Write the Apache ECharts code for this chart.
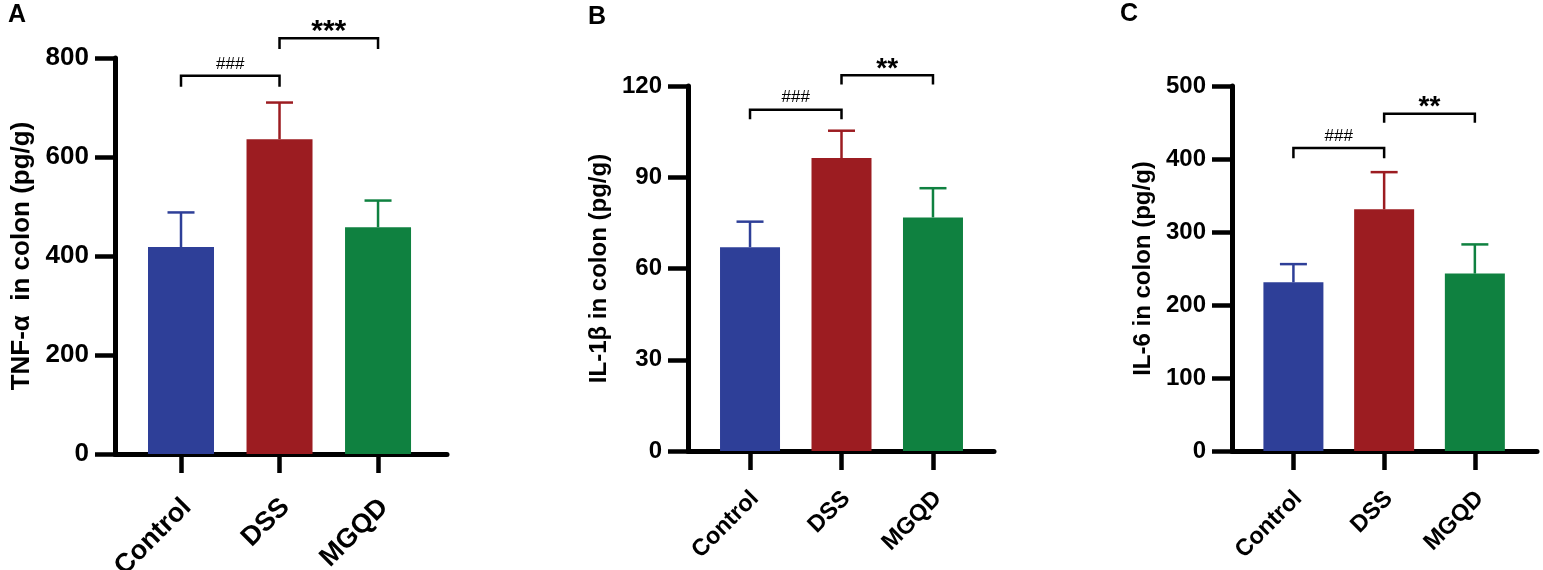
<!DOCTYPE html>
<html lang="en">
<head>
<meta charset="UTF-8">
<title>Cytokines in colon</title>
<script src="https://cdn.jsdelivr.net/npm/echarts@6/dist/echarts.min.js"></script>
<style>
    html, body { margin: 0; padding: 0; background: #fff; }
</style>
</head>
<body>
<div id="main" style="width:1543px;height:570px;"></div>
<script>
// groups on the x axis and their positions
var groups = ['Control', 'DSS', 'MGQD'];
var groupPos = [1, 2, 3];
var colors = ['#2e3f98', '#9c1c21', '#0f8140'];

// A: TNF-a
var tnfMean = [418, 636, 458];
var tnfSd = [70, 74, 54];
var tnfSig = [['###', 1, 2, 764, 742], ['***', 2, 3, 840, 818]];

// B: IL-1b
var il1bMean = [67, 96.3, 76.8];
var il1bSd = [8.4, 9, 9.6];
var il1bSig = [['###', 1, 2, 112.2, 109.1], ['**', 2, 3, 123.5, 120.5]];

// C: IL-6
var il6Mean = [231, 331, 243];
var il6Sd = [25, 51, 40];
var il6Sig = [['###', 1, 2, 415, 401], ['**', 2, 3, 462, 449.5]];

var yTicksA = [0, 800, 200];
var yTicksB = [0, 120, 30];
var yTicksC = [0, 500, 100];

var FONT = 'Liberation Sans, Arial, Helvetica, sans-serif';

var panels = [
    {
        letter: 'A', name: 'TNF-\u03b1  in colon (pg/g)',
        mean: tnfMean, sd: tnfSd, sig: tnfSig, ticks: yTicksA,
        grid: { left: 115, top: 58, width: 332, height: 396, outerBoundsMode: 'none' },
        xMin: 0.33, xMax: 3.70, barW: 66, font: 26, xFont: 27, xMargin: 36, nameGap: 80,
        letterPos: { left: 8, top: 3 }, starSize: 30
    },
    {
        letter: 'B', name: 'IL-1\u03b2 in colon (pg/g)',
        mean: il1bMean, sd: il1bSd, sig: il1bSig, ticks: yTicksB,
        grid: { left: 688, top: 86, width: 306, height: 365, outerBoundsMode: 'none' },
        xMin: 0.322, xMax: 3.667, barW: 60, font: 24, xFont: 23.5, xMargin: 32, nameGap: 77,
        letterPos: { left: 588, top: 5 }, starSize: 28
    },
    {
        letter: 'C', name: 'IL-6 in colon (pg/g)',
        mean: il6Mean, sd: il6Sd, sig: il6Sig, ticks: yTicksC,
        grid: { left: 1232, top: 86, width: 305, height: 365, outerBoundsMode: 'none' },
        xMin: 0.323, xMax: 3.685, barW: 60, font: 24, xFont: 23.5, xMargin: 32, nameGap: 77,
        letterPos: { left: 1120, top: 2 }, starSize: 28
    }
];

var grids = [], xAxes = [], yAxes = [], series = [], titles = [];

panels.forEach(function (p, i) {
    grids.push(p.grid);
    titles.push({
        text: p.letter, left: p.letterPos.left, top: p.letterPos.top, padding: 0,
        textStyle: { fontFamily: FONT, fontSize: 25, fontWeight: 'bold', color: '#000' }
    });

    xAxes.push({
        gridIndex: i,
        type: 'value',
        min: p.xMin,
        max: p.xMax,
        splitLine: { show: false },
        axisLine: { show: true, lineStyle: { color: '#000', width: 5 } },
        axisTick: { show: true, length: 19, customValues: groupPos, lineStyle: { color: '#000', width: 4.5 } },
        axisLabel: {
            customValues: groupPos,
            rotate: 45,
            align: 'right',
            verticalAlign: 'top',
            margin: p.xMargin,
            padding: [0, 5, 0, 0],
            fontFamily: FONT,
            fontSize: p.xFont,
            fontWeight: 'bold',
            color: '#000',
            formatter: function (v) { return groups[groupPos.indexOf(v)]; }
        }
    });

    yAxes.push({
        gridIndex: i,
        type: 'value',
        min: p.ticks[0],
        max: p.ticks[1],
        interval: p.ticks[2],
        name: p.name,
        nameLocation: 'middle',
        nameGap: p.nameGap,
        nameTextStyle: { fontFamily: FONT, fontSize: p.font, fontWeight: 'bold', color: '#000' },
        splitLine: { show: false },
        axisLine: { show: true, lineStyle: { color: '#000', width: 5 } },
        axisTick: { show: true, length: 20, lineStyle: { color: '#000', width: 4.5 } },
        axisLabel: { margin: 26, fontFamily: FONT, fontSize: p.font, fontWeight: 'bold', color: '#000' }
    });

    // error bars (upper only)
    series.push({
        type: 'custom',
        xAxisIndex: i, yAxisIndex: i,
        z: 1,
        data: groupPos.map(function (x, j) { return [x, p.mean[j], p.mean[j] + p.sd[j], j]; }),
        renderItem: function (params, api) {
            var x = api.value(0);
            var bot = api.coord([x, api.value(1)]);
            var top = api.coord([x, api.value(2)]);
            var c = colors[api.value(3)];
            var half = 13.5;
            return {
                type: 'group',
                children: [
                    { type: 'line', shape: { x1: bot[0], y1: bot[1], x2: top[0], y2: top[1] }, style: { stroke: c, lineWidth: 2.5 } },
                    { type: 'line', shape: { x1: top[0] - half, y1: top[1], x2: top[0] + half, y2: top[1] }, style: { stroke: c, lineWidth: 2.5 } }
                ]
            };
        }
    });

    series.push({
        type: 'bar',
        xAxisIndex: i, yAxisIndex: i,
        z: 2,
        barWidth: p.barW,
        data: groupPos.map(function (x, j) {
            return { value: [x, p.mean[j]], itemStyle: { color: colors[j] } };
        })
    });

    // significance brackets
    series.push({
        type: 'custom',
        xAxisIndex: i, yAxisIndex: i,
        z: 3,
        clip: false,
        data: p.sig.map(function (s) { return [s[1], s[2], s[3], s[4]]; }),
        renderItem: function (params, api) {
            var label = p.sig[params.dataIndex][0];
            var a = api.coord([api.value(0), api.value(2)]);
            var b = api.coord([api.value(1), api.value(2)]);
            var aLeg = api.coord([api.value(0), api.value(3)]);
            var bLeg = api.coord([api.value(1), api.value(3)]);
            var star = label.charAt(0) === '*';
            return {
                type: 'group',
                children: [
                    {
                        type: 'polyline',
                        shape: { points: [[aLeg[0], aLeg[1]], [a[0], a[1]], [b[0], b[1]], [bLeg[0], bLeg[1]]] },
                        style: { stroke: '#000', lineWidth: 2.5, fill: null }
                    },
                    {
                        type: 'text',
                        x: (a[0] + b[0]) / 2,
                        y: a[1] - (star ? 6 : 12),
                        style: {
                            text: label,
                            align: 'center',
                            verticalAlign: 'middle',
                            fontFamily: FONT,
                            fontSize: star ? p.starSize : 17,
                            fontWeight: star ? 'bold' : 'normal',
                            fill: '#000'
                        }
                    }
                ]
            };
        }
    });
});

var myChart = echarts.init(document.getElementById('main'));
myChart.setOption({
    animation: false,
    backgroundColor: '#fff',
    title: titles,
    grid: grids,
    xAxis: xAxes,
    yAxis: yAxes,
    series: series
});
</script>
</body>
</html>
